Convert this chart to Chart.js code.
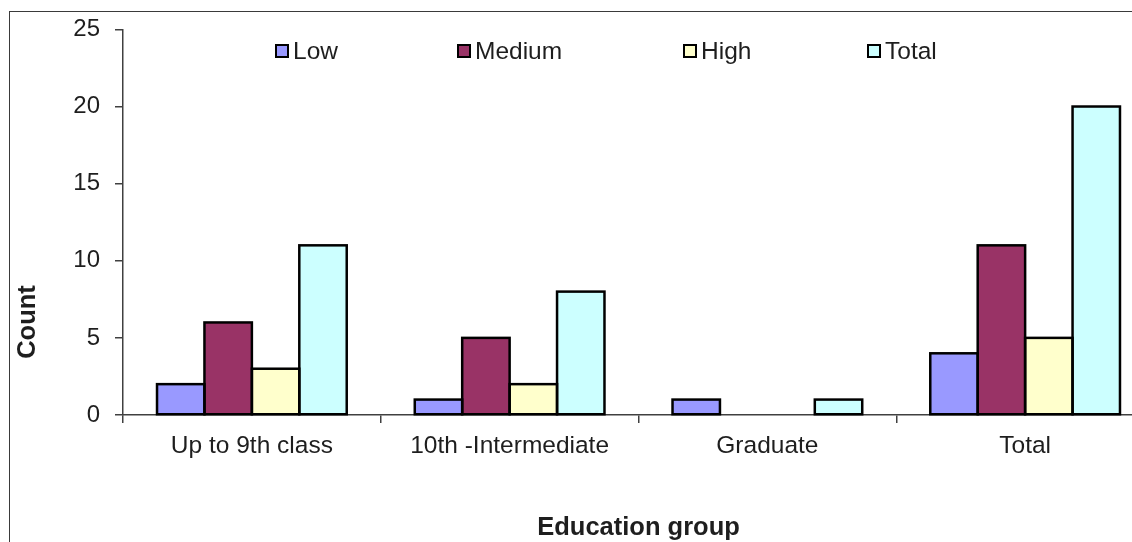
<!DOCTYPE html>
<html>
<head>
<meta charset="utf-8">
<script src="https://cdn.jsdelivr.net/npm/chart.js@4/dist/chart.umd.min.js"></script>
<style>
  html, body { margin: 0; padding: 0; background: #fff; overflow: hidden; width: 1132px; height: 542px; }
  #frame { position: absolute; left: 9px; top: 11px; width: 1300px; height: 700px; border: 1.5px solid #3a3a3a; box-sizing: border-box; }
  #wrap { position: absolute; left: 0; top: 0; width: 1200px; height: 580px; }
</style>
</head>
<body>
<div id="frame"></div>
<div id="wrap"><canvas id="c" width="1200" height="580"></canvas></div>
<script>
// Counts by education group and level
const categories = ['Up to 9th class', '10th -Intermediate', 'Graduate', 'Total'];
const seriesNames = ['Low', 'Medium', 'High', 'Total'];
const lowValues = [2, 1, 1, 4];
const mediumValues = [6, 5, 0, 11];
const highValues = [3, 2, 0, 5];
const totalValues = [11, 8, 1, 20];
const yTickValues = [0, 5, 10, 15, 20, 25];
const xTitle = 'Education group';
const yTitle = 'Count';

const seriesColors = ['#9999FF', '#993366', '#FFFFCC', '#CCFFFF'];
const seriesValues = [lowValues, mediumValues, highValues, totalValues];

const FONT = "'Liberation Sans', Arial, sans-serif";
const TEXT = '#1e1e1e';
const AXIS = '#404040';

// Outline each bar with a stroke centred on its edges, so neighbours share one line
const barOutline = {
  id: 'barOutline',
  afterDatasetsDraw(chart, args, opts) {
    const ctx = chart.ctx;
    ctx.save();
    ctx.lineWidth = opts.width;
    ctx.strokeStyle = opts.color;
    ctx.lineJoin = 'miter';
    chart.data.datasets.forEach((ds, i) => {
      const meta = chart.getDatasetMeta(i);
      meta.data.forEach((bar, j) => {
        if (!ds.data[j]) return;
        const p = bar.getProps(['x', 'y', 'base', 'width'], true);
        ctx.strokeRect(p.x - p.width / 2, p.y, p.width, p.base - p.y);
      });
    });
    ctx.restore();
  }
};

// Legend row drawn across the top of the plot
const legendRow = {
  id: 'legendRow',
  afterDraw(chart, args, opts) {
    const ctx = chart.ctx;
    ctx.save();
    ctx.font = `${opts.fontSize}px ${FONT}`;
    ctx.textBaseline = 'middle';
    ctx.textAlign = 'left';
    chart.data.datasets.forEach((ds, i) => {
      const x = opts.positions[i];
      const y = opts.y;
      const s = opts.box;
      ctx.fillStyle = ds.backgroundColor;
      ctx.fillRect(x, y - s / 2, s, s);
      ctx.lineWidth = 2;
      ctx.strokeStyle = '#000';
      ctx.strokeRect(x + 1, y - s / 2 + 1, s - 2, s - 2);
      ctx.fillStyle = TEXT;
      ctx.fillText(ds.label, x + s + 4, y + 1);
    });
    ctx.restore();
  }
};

// Rotated caption for the value axis
const yCaption = {
  id: 'yCaption',
  afterDraw(chart, args, opts) {
    const ctx = chart.ctx;
    ctx.save();
    ctx.translate(opts.x, opts.y);
    ctx.rotate(-Math.PI / 2);
    ctx.font = `bold ${opts.fontSize}px ${FONT}`;
    ctx.fillStyle = TEXT;
    ctx.textAlign = 'center';
    ctx.textBaseline = 'middle';
    ctx.fillText(opts.text, 0, 0);
    ctx.restore();
  }
};

new Chart(document.getElementById('c'), {
  type: 'bar',
  data: {
    labels: categories,
    datasets: seriesNames.map((name, i) => ({
      label: name,
      data: seriesValues[i],
      backgroundColor: seriesColors[i],
      borderWidth: 0,
      categoryPercentage: 0.736,
      barPercentage: 1.0
    }))
  },
  options: {
    responsive: false,
    devicePixelRatio: 1,
    animation: false,
    layout: { padding: { left: 0, top: 28, right: 46, bottom: 0 } },
    plugins: {
      legend: { display: false },
      tooltip: { enabled: false },
      barOutline: { width: 2.5, color: '#000' },
      legendRow: { positions: [275, 457, 683, 867], y: 51, box: 14, fontSize: 24.5 },
      yCaption: { text: yTitle, x: 28, y: 322, fontSize: 25.5 }
    },
    scales: {
      x: {
        type: 'category',
        offset: true,
        afterFit(scale) { scale.height = 165; },
        grid: { offset: true, drawOnChartArea: false, drawTicks: true, tickLength: 8, color: AXIS, lineWidth: 1.5 },
        border: { color: AXIS, width: 1.5 },
        ticks: { color: TEXT, font: { family: FONT, size: 24.5 }, padding: 9, maxRotation: 0 },
        title: { display: true, text: xTitle, color: TEXT, font: { family: FONT, size: 25.5, weight: 'bold' }, padding: { top: 0, bottom: 37 } }
      },
      y: {
        min: 0,
        max: 25,
        afterFit(scale) { scale.width = 123; },
        afterBuildTicks(scale) { scale.ticks = yTickValues.map(v => ({ value: v })); },
        grid: { drawOnChartArea: false, drawTicks: true, tickLength: 8, color: AXIS, lineWidth: 1.5 },
        border: { color: AXIS, width: 1.5 },
        ticks: { color: TEXT, font: { family: FONT, size: 24 }, padding: 15 }
      }
    }
  },
  plugins: [barOutline, legendRow, yCaption]
});
</script>
</body>
</html>
